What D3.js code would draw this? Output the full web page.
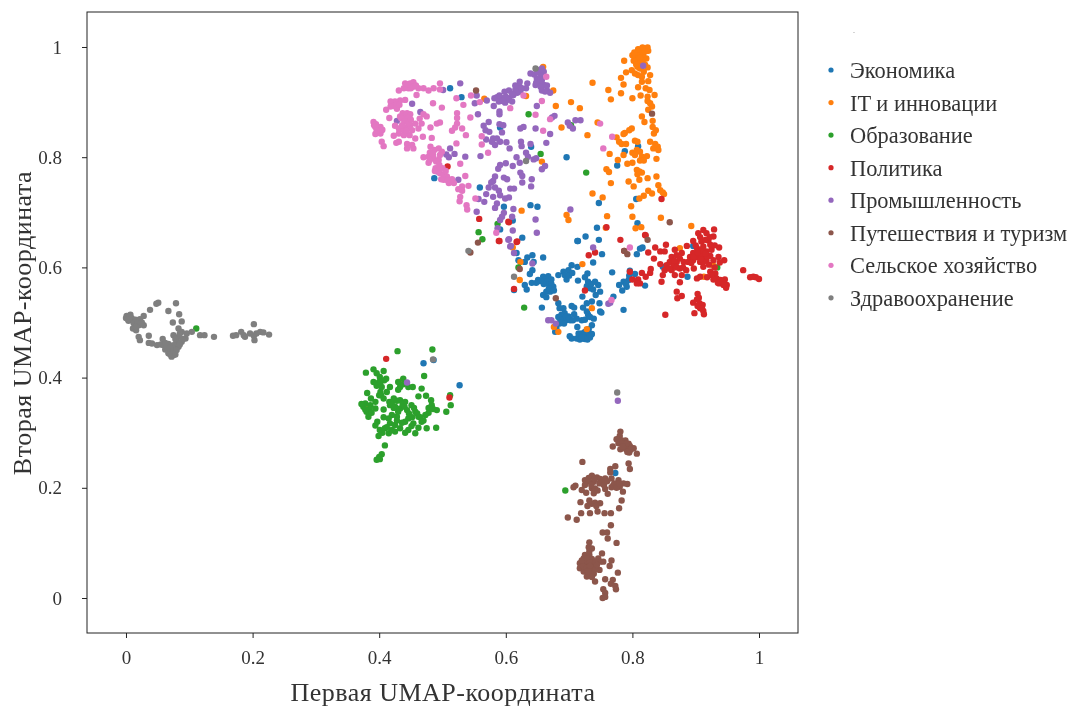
<!DOCTYPE html>
<html>
<head>
<meta charset="utf-8">
<script src="https://cdn.jsdelivr.net/npm/d3@7"></script>
<style>
    body { margin: 0; background: white; }
    svg { filter: blur(0.4px); }
    text { font-family: "Liberation Serif", serif; fill: #333; }
</style>
</head>
<body>
<script>
const categories = ['Экономика', 'IT и инновации', 'Образование', 'Политика', 'Промышленность', 'Путешествия и туризм', 'Сельское хозяйство', 'Здравоохранение']
const colors = ['#1f77b4', '#ff7f0e', '#2ca02c', '#d62728', '#9467bd', '#8c564b', '#e377c2', '#7f7f7f']
const tickValues = [0, 0.2, 0.4, 0.6, 0.8, 1]

const economy = [[.512,.925],[.530,.909],[.487,.762],[.559,.745],[.591,.854],[.640,.819],[.696,.800],[.639,.713],[.650,.710],[.597,.710],[.611,.685],[.591,.669],[.626,.654],[.714,.648],[.809,.820],[.788,.811],[.776,.785],[.806,.724],[.747,.717],[.808,.680],[.744,.672],[.726,.656],[.713,.648],[.747,.650],[.752,.624],[.807,.624],[.812,.634],[.816,.636],[.659,.618],[.642,.622],[.634,.618],[.617,.626],[.620,.613],[.630,.610],[.644,.610],[.738,.609],[.704,.604],[.713,.601],[.699,.595],[.691,.592],[.683,.586],[.693,.586],[.696,.578],[.642,.595],[.638,.588],[.641,.572],[.630,.568],[.633,.560],[.651,.577],[.659,.583],[.667,.584],[.662,.577],[.672,.578],[.667,.571],[.675,.565],[.670,.562],[.664,.556],[.670,.556],[.659,.550],[.664,.546],[.613,.559],[.729,.589],[.725,.582],[.714,.576],[.730,.574],[.741,.574],[.746,.568],[.728,.566],[.733,.562],[.749,.556],[.742,.550],[.721,.547],[.768,.591],[.796,.594],[.804,.588],[.815,.635],[.794,.577],[.786,.574],[.779,.568],[.791,.565],[.784,.558],[.820,.567],[.770,.547],[.786,.523],[.887,.583],[.848,.601],[.657,.527],[.683,.535],[.685,.526],[.691,.526],[.704,.530],[.708,.527],[.688,.514],[.693,.517],[.699,.511],[.688,.508],[.695,.504],[.702,.504],[.685,.498],[.712,.507],[.720,.504],[.722,.527],[.728,.535],[.736,.538],[.748,.535],[.728,.520],[.749,.520],[.751,.518],[.739,.507],[.730,.514],[.736,.495],[.713,.492],[.678,.483],[.701,.475],[.704,.471],[.712,.471],[.716,.477],[.720,.480],[.728,.477],[.736,.479],[.722,.471],[.729,.469],[.717,.469],[.725,.483],[.733,.473],[.896,.639],[.470,.426],[.486,.432],[.527,.386],[.773,.227],[.715,.480],[.722,.476],[.730,.483],[.725,.470],[.735,.478],[.731,.488],[.720,.473],[.690,.512],[.695,.510],[.686,.505],[.692,.498],[.700,.508],[.706,.504],[.683,.510],[.665,.575],[.672,.570],[.668,.562],[.676,.558],[.660,.570],[.655,.575],[.648,.572],[.735,.570],[.738,.560],[.700,.585],[.705,.590],[.790,.570],[.795,.585],[.725,.505],[.733,.510],[.680,.490],[.708,.515]]

const itInnovation = [[.809,.996],[.824,.999],[.825,.993],[.817,.992],[.812,.989],[.807,.989],[.804,.982],[.802,.975],[.809,.979],[.817,.985],[.822,.979],[.815,.976],[.809,.972],[.808,.964],[.812,.961],[.787,.975],[.790,.954],[.799,.958],[.804,.952],[.809,.949],[.824,.963],[.818,.955],[.828,.949],[.815,.946],[.782,.944],[.815,.937],[.825,.938],[.786,.932],[.737,.935],[.809,.927],[.821,.925],[.827,.922],[.762,.922],[.782,.916],[.813,.912],[.835,.913],[.766,.905],[.800,.907],[.824,.910],[.824,.902],[.828,.898],[.831,.892],[.825,.886],[.815,.874],[.832,.866],[.819,.864],[.832,.855],[.837,.849],[.834,.843],[.799,.852],[.795,.849],[.788,.844],[.786,.842],[.775,.836],[.779,.828],[.783,.824],[.790,.824],[.804,.830],[.808,.828],[.828,.828],[.836,.824],[.840,.819],[.833,.816],[.841,.813],[.764,.806],[.800,.808],[.807,.813],[.812,.810],[.804,.804],[.815,.801],[.823,.802],[.812,.794],[.818,.794],[.786,.804],[.838,.797],[.777,.795],[.792,.788],[.800,.790],[.759,.778],[.763,.773],[.807,.777],[.811,.774],[.815,.772],[.808,.769],[.838,.765],[.824,.762],[.811,.759],[.766,.753],[.794,.756],[.802,.747],[.841,.749],[.844,.740],[.825,.739],[.831,.734],[.818,.730],[.811,.725],[.737,.734],[.753,.727],[.848,.736],[.850,.733],[.798,.711],[.696,.695],[.699,.686],[.760,.693],[.800,.692],[.845,.690],[.893,.675],[.814,.673],[.805,.671],[.758,.672],[.703,.900],[.679,.893],[.717,.889],[.688,.854],[.745,.863],[.729,.840],[.675,.921],[.659,.964],[.875,.635],[.566,.906],[.625,.703],[.657,.792],[.632,.911],[.611,.636],[.623,.610],[.622,.577],[.721,.606],[.736,.526],[.676,.492],[.683,.483],[.728,.488],[.928,.603],[.913,.583],[.436,.394],[.381,.343],[.805,.975],[.812,.980],[.812,.970],[.817,.970],[.806,.968],[.800,.985],[.815,.965],[.820,.968],[.820,.992],[.810,.995],[.816,.999],[.803,.990]]

const education = [[.636,.878],[.655,.806],[.587,.679],[.557,.664],[.563,.651],[.703,.858],[.727,.772],[.620,.600],[.629,.527],[.934,.600],[.111,.489],[.694,.195],[.429,.448],[.484,.451],[.379,.409],[.391,.415],[.396,.408],[.407,.412],[.401,.401],[.391,.392],[.400,.392],[.411,.398],[.417,.383],[.396,.389],[.404,.383],[.430,.392],[.433,.383],[.446,.383],[.438,.398],[.453,.383],[.471,.403],[.467,.380],[.381,.372],[.402,.374],[.412,.374],[.387,.362],[.400,.368],[.474,.367],[.482,.359],[.512,.368],[.423,.362],[.433,.359],[.416,.356],[.441,.356],[.378,.353],[.386,.350],[.375,.347],[.380,.338],[.394,.344],[.383,.329],[.407,.342],[.417,.350],[.425,.347],[.433,.344],[.451,.350],[.444,.341],[.457,.338],[.483,.350],[.491,.341],[.478,.336],[.506,.338],[.513,.350],[.473,.332],[.407,.328],[.420,.332],[.428,.329],[.446,.326],[.462,.329],[.441,.320],[.454,.317],[.467,.320],[.394,.313],[.417,.317],[.425,.314],[.401,.305],[.409,.308],[.433,.308],[.446,.305],[.462,.309],[.475,.308],[.490,.309],[.399,.294],[.415,.299],[.425,.302],[.457,.299],[.409,.277],[.404,.261],[.400,.256],[.396,.251],[.401,.252],[.408,.395],[.403,.368],[.407,.362],[.420,.355],[.428,.358],[.437,.352],[.423,.345],[.440,.347],[.430,.338],[.447,.335],[.455,.345],[.460,.335],[.465,.328],[.470,.322],[.452,.328],[.436,.318],[.428,.322],[.415,.326],[.412,.310],[.420,.305],[.405,.300],[.394,.356],[.385,.343],[.372,.352],[.378,.342],[.388,.336],[.396,.385],[.402,.392],[.430,.378],[.438,.388],[.462,.366],[.478,.345],[.485,.343],[.397,.320],[.441,.300],[.451,.312]]

const politics = [[.759,.673],[.820,.659],[.853,.641],[.836,.636],[.781,.650],[.741,.627],[.731,.622],[.787,.630],[.825,.627],[.834,.616],[.844,.629],[.851,.629],[.844,.606],[.867,.632],[.886,.639],[.862,.619],[.870,.622],[.878,.626],[.859,.610],[.854,.604],[.870,.610],[.875,.616],[.881,.610],[.865,.604],[.862,.595],[.875,.598],[.878,.586],[.867,.586],[.851,.595],[.848,.586],[.846,.574],[.875,.573],[.904,.662],[.912,.668],[.929,.669],[.917,.662],[.928,.656],[.907,.655],[.909,.647],[.920,.649],[.896,.648],[.923,.641],[.912,.638],[.902,.635],[.937,.636],[.917,.629],[.907,.629],[.896,.626],[.891,.619],[.902,.619],[.912,.619],[.923,.621],[.936,.619],[.896,.613],[.907,.610],[.917,.613],[.928,.613],[.945,.613],[.938,.609],[.897,.598],[.912,.601],[.923,.592],[.931,.589],[.925,.586],[.907,.583],[.902,.580],[.933,.580],[.939,.577],[.946,.578],[.937,.571],[.944,.568],[.949,.568],[.948,.563],[.870,.556],[.878,.548],[.871,.544],[.903,.552],[.902,.542],[.896,.536],[.906,.535],[.911,.532],[.907,.526],[.912,.521],[.913,.515],[.898,.517],[.852,.514],[.975,.595],[.986,.582],[.991,.583],[.995,.582],[1,.579],[.829,.597],[.828,.590],[.815,.590],[.821,.583],[.809,.578],[.812,.571],[.807,.571],[.800,.578],[.796,.592],[.725,.558],[.589,.648],[.617,.646],[.613,.561],[.604,.683],[.508,.783],[.558,.688],[.605,.682],[.590,.648],[.618,.647],[.821,.658],[.846,.724],[.411,.434],[.511,.364],[.900,.640],[.905,.622],[.910,.632],[.918,.620],[.925,.632],[.915,.650],[.922,.655],[.930,.640],[.897,.620],[.888,.610],[.880,.600],[.885,.595],[.870,.600],[.858,.598],[.866,.612],[.893,.608],[.912,.610],[.921,.605],[.930,.600],[.918,.582],[.928,.578],[.935,.572],[.942,.575],[.945,.570],[.905,.545],[.903,.530],[.910,.525],[.915,.625],[.908,.615],[.903,.627]]

const industry = [[.639,.952],[.652,.958],[.657,.961],[.660,.955],[.655,.949],[.649,.943],[.657,.940],[.652,.934],[.660,.931],[.657,.921],[.665,.921],[.670,.917],[.662,.919],[.647,.931],[.634,.934],[.632,.925],[.622,.937],[.622,.928],[.618,.925],[.623,.919],[.618,.917],[.615,.922],[.605,.921],[.598,.919],[.612,.913],[.602,.904],[.594,.907],[.586,.909],[.582,.907],[.589,.901],[.599,.899],[.605,.907],[.610,.901],[.581,.893],[.590,.883],[.590,.878],[.649,.893],[.554,.912],[.551,.898],[.570,.903],[.528,.934],[.501,.922],[.556,.878],[.573,.864],[.565,.857],[.568,.849],[.574,.846],[.590,.860],[.596,.858],[.594,.845],[.623,.852],[.628,.855],[.647,.852],[.670,.842],[.569,.832],[.580,.834],[.586,.834],[.578,.828],[.583,.822],[.591,.828],[.601,.827],[.606,.816],[.624,.828],[.625,.820],[.639,.824],[.664,.826],[.560,.802],[.536,.801],[.519,.806],[.512,.816],[.506,.805],[.510,.800],[.632,.808],[.635,.801],[.644,.796],[.648,.798],[.617,.800],[.611,.784],[.622,.790],[.600,.789],[.591,.786],[.588,.779],[.657,.778],[.662,.784],[.623,.772],[.626,.766],[.641,.760],[.626,.754],[.640,.747],[.597,.763],[.602,.760],[.583,.765],[.580,.757],[.577,.754],[.573,.745],[.583,.745],[.589,.739],[.607,.743],[.613,.743],[.569,.733],[.580,.728],[.591,.731],[.599,.725],[.605,.727],[.557,.724],[.566,.719],[.586,.716],[.583,.708],[.612,.706],[.597,.699],[.594,.692],[.591,.686],[.554,.701],[.610,.692],[.647,.687],[.587,.671],[.611,.667],[.649,.663],[.605,.651],[.702,.705],[.673,.872],[.677,.875],[.698,.863],[.701,.857],[.706,.852],[.710,.867],[.718,.867],[.428,.866],[.452,.897],[.465,.882],[.525,.759],[.492,.774],[.607,.638],[.738,.636],[.817,.966],[.667,.504],[.672,.504],[.679,.498],[.762,.534],[.765,.536],[.604,.650],[.608,.639],[.613,.626],[.642,.607],[.444,.391],[.777,.358],[.645,.950],[.650,.955],[.655,.940],[.648,.935],[.610,.915],[.600,.910],[.590,.912],[.625,.925],[.615,.930],[.595,.902],[.655,.928],[.665,.930]]

const tourism = [[.781,.302],[.780,.294],[.775,.288],[.783,.286],[.789,.286],[.778,.281],[.794,.280],[.789,.276],[.796,.276],[.769,.275],[.781,.270],[.790,.270],[.796,.268],[.802,.272],[.807,.262],[.795,.264],[.794,.244],[.796,.234],[.721,.247],[.773,.239],[.765,.234],[.765,.228],[.736,.222],[.731,.218],[.744,.219],[.749,.216],[.757,.217],[.725,.214],[.739,.211],[.752,.210],[.767,.217],[.778,.214],[.786,.208],[.792,.207],[.770,.205],[.780,.202],[.710,.204],[.707,.201],[.720,.196],[.727,.191],[.736,.199],[.741,.199],[.757,.198],[.767,.201],[.785,.193],[.739,.190],[.761,.189],[.732,.177],[.718,.174],[.729,.167],[.736,.171],[.741,.173],[.749,.172],[.743,.167],[.783,.177],[.779,.163],[.745,.157],[.756,.154],[.766,.154],[.733,.154],[.719,.154],[.698,.146],[.712,.142],[.766,.132],[.753,.119],[.760,.119],[.761,.108],[.775,.100],[.732,.101],[.731,.092],[.736,.090],[.725,.078],[.732,.078],[.752,.081],[.723,.072],[.736,.071],[.746,.072],[.754,.066],[.767,.068],[.717,.063],[.728,.064],[.739,.060],[.749,.066],[.764,.058],[.717,.054],[.725,.054],[.736,.051],[.748,.051],[.723,.048],[.731,.045],[.739,.044],[.777,.046],[.728,.039],[.736,.038],[.741,.030],[.757,.034],[.769,.033],[.766,.026],[.773,.022],[.774,.016],[.754,.016],[.757,.009],[.753,0],[.757,.002],[.553,.921],[.556,.645],[.544,.627],[.831,.879],[.859,.682],[.824,.650],[.792,.624],[.622,.597],[.679,.544],[.787,.630],[.785,.280],[.790,.280],[.798,.270],[.792,.265],[.785,.275],[.730,.212],[.740,.216],[.748,.208],[.755,.205],[.760,.212],[.772,.208],[.775,.200],[.745,.195],[.735,.205],[.725,.205],[.780,.208],[.728,.072],[.733,.065],[.722,.058],[.728,.055],[.733,.058],[.742,.052],[.730,.048],[.742,.065],[.720,.068],[.732,.085],[.744,.060]]

const agriculture = [[.441,.934],[.449,.934],[.454,.936],[.439,.925],[.446,.925],[.454,.928],[.462,.925],[.470,.925],[.478,.921],[.486,.925],[.496,.934],[.431,.921],[.459,.913],[.496,.923],[.441,.904],[.433,.903],[.425,.901],[.418,.901],[.423,.893],[.427,.895],[.411,.886],[.485,.898],[.499,.890],[.437,.880],[.444,.880],[.449,.878],[.433,.874],[.441,.871],[.446,.871],[.470,.878],[.475,.874],[.416,.871],[.391,.864],[.392,.858],[.402,.855],[.404,.849],[.399,.846],[.394,.842],[.402,.843],[.425,.857],[.431,.852],[.444,.855],[.449,.858],[.457,.861],[.467,.861],[.439,.849],[.452,.849],[.462,.852],[.481,.854],[.491,.861],[.496,.863],[.423,.839],[.431,.843],[.439,.840],[.448,.840],[.457,.834],[.469,.837],[.483,.835],[.427,.826],[.431,.828],[.444,.824],[.452,.822],[.404,.828],[.407,.820],[.454,.816],[.444,.816],[.481,.819],[.494,.816],[.499,.810],[.487,.813],[.522,.825],[.470,.800],[.478,.801],[.486,.798],[.496,.804],[.494,.795],[.478,.790],[.489,.780],[.494,.777],[.496,.771],[.502,.768],[.507,.765],[.502,.759],[.512,.756],[.510,.753],[.518,.753],[.531,.747],[.541,.748],[.531,.739],[.536,.766],[.528,.788],[.523,.880],[.523,.871],[.523,.861],[.520,.854],[.515,.848],[.531,.852],[.537,.840],[.544,.872],[.533,.895],[.522,.907],[.545,.912],[.562,.838],[.562,.823],[.572,.808],[.552,.725],[.538,.713],[.539,.705],[.528,.728],[.527,.720],[.585,.663],[.647,.877],[.607,.889],[.657,.902],[.664,.946],[.670,.869],[.659,.848],[.559,.900],[.628,.912],[.749,.861],[.768,.837],[.754,.816],[.796,.636],[.767,.541],[.395,.860],[.398,.852],[.394,.855],[.405,.850],[.396,.848],[.435,.870],[.440,.865],[.447,.862],[.436,.858],[.443,.848],[.450,.868],[.428,.888],[.418,.892],[.432,.895],[.450,.925],[.445,.932],[.458,.930],[.480,.808],[.485,.805],[.490,.792],[.500,.780],[.495,.786],[.488,.775],[.498,.760],[.505,.775],[.508,.758],[.515,.760],[.525,.742],[.480,.795],[.464,.870]]

const healthcare = [[.051,.536],[.048,.534],[.079,.535],[.038,.523],[.067,.521],[.084,.515],[.001,.512],[.007,.514],[0,.508],[.009,.508],[.028,.512],[.004,.503],[.015,.505],[.022,.506],[.012,.499],[.020,.495],[.028,.495],[.074,.500],[.088,.502],[.011,.489],[.016,.486],[.083,.489],[.088,.483],[.096,.480],[.104,.483],[.075,.477],[.036,.476],[.020,.474],[.022,.468],[.058,.470],[.083,.474],[.094,.471],[.080,.465],[.088,.465],[.036,.463],[.041,.462],[.049,.459],[.059,.459],[.067,.461],[.075,.459],[.083,.456],[.062,.451],[.070,.450],[.078,.451],[.067,.444],[.075,.441],[.072,.438],[.117,.477],[.124,.477],[.139,.474],[.169,.476],[.174,.477],[.182,.483],[.186,.477],[.188,.474],[.202,.497],[.196,.480],[.203,.468],[.206,.480],[.212,.483],[.217,.482],[.226,.478],[.202,.476],[.647,.961],[.632,.793],[.541,.630],[.613,.583],[.485,.433],[.776,.373],[.005,.510],[.003,.506],[.018,.500],[.016,.492],[.025,.500],[.070,.455],[.075,.448],[.070,.442],[.065,.455],[.080,.450],[.085,.460],[.090,.470],[.078,.470],[.085,.480],[.055,.460],[.062,.463],[.078,.442]]

const series = [economy, itInnovation, education, politics, industry, tourism, agriculture, healthcare]

const margin = { top: 12, right: 272, bottom: 75, left: 87 }
const width = 1070 - margin.left - margin.right
const height = 708 - margin.top - margin.bottom

const svg = d3.select("body")
    .append("svg")
    .attr("width", 1070)
    .attr("height", 708)
    .style("display", "block")

const g = svg.append("g")
    .attr("transform", `translate(${margin.left}, ${margin.top})`)

const xScale = d3.scaleLinear().domain([-0.0616, 1.0616]).range([0, width])
const yScale = d3.scaleLinear().domain([-0.0635, 1.0635]).range([height, 0])

// later categories paint over earlier ones
series.forEach((points, i) => {
    g.append("g").selectAll("circle")
        .data(points).enter()
        .append("circle")
        .attr("cx", d => xScale(d[0]))
        .attr("cy", d => yScale(d[1]))
        .attr("r", 3.2)
        .attr("fill", colors[i])
})

const xAxis = d3.axisBottom(xScale).tickValues(tickValues).tickFormat(d3.format("~g")).tickSize(5).tickPadding(13)
const yAxis = d3.axisLeft(yScale).tickValues(tickValues).tickFormat(d3.format("~g")).tickSize(5).tickPadding(20)

const xg = g.append("g").attr("transform", `translate(0, ${height})`).call(xAxis)
const yg = g.append("g").call(yAxis)
for (const a of [xg, yg]) {
    a.selectAll("text").style("font-family", '"Liberation Serif", serif').style("font-size", "19px").attr("fill", "#333")
    a.selectAll(".tick line").attr("stroke", "#222")
    a.select(".domain").attr("stroke", "none")
}

g.append("rect")
    .attr("width", width)
    .attr("height", height)
    .attr("fill", "none")
    .attr("stroke", "#222")

svg.append("text")
    .attr("text-anchor", "middle")
    .attr("x", 443)
    .attr("y", 701)
    .style("font-size", "26px")
    .style("letter-spacing", "0.5px")
    .text("Первая UMAP-координата")

svg.append("text")
    .attr("text-anchor", "middle")
    .attr("transform", "translate(31, 323) rotate(-90)")
    .style("font-size", "26px")
    .style("letter-spacing", "0.5px")
    .text("Вторая UMAP-координата")

// legend
svg.append("text")
    .attr("x", 853)
    .attr("y", 33)
    .style("font-size", "8px")
    .style("fill", "#777")
    .text(".")

const legend = svg.append("g").selectAll("g")
    .data(categories).enter()
    .append("g")
    .attr("transform", (d, i) => `translate(0, ${71 + i * 32.55})`)

legend.append("circle")
    .attr("cx", 831)
    .attr("cy", -1)
    .attr("r", 2.6)
    .attr("fill", (d, i) => colors[i])

legend.append("text")
    .attr("x", 850)
    .attr("y", 7)
    .style("font-size", "22.4px")
    .text(d => d)
</script>
</body>
</html>
